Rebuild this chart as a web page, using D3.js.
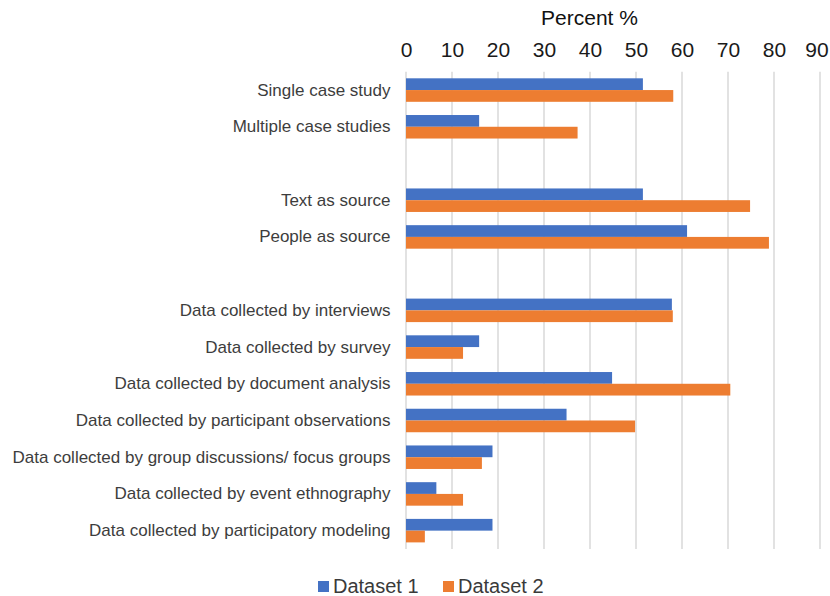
<!DOCTYPE html>
<html>
<head>
<meta charset="utf-8">
<script src="https://cdn.jsdelivr.net/npm/d3@7"></script>
<style>
  html, body { margin: 0; padding: 0; background: #fff; }
  svg { display: block; font-family: "Liberation Sans", Arial, sans-serif; }
</style>
</head>
<body>
<svg id="chart" width="830" height="596"></svg>
<script>
// Categories, top to bottom; empty strings are spacer rows between groups.
const categories = [
  "Single case study",
  "Multiple case studies",
  "",
  "Text as source",
  "People as source",
  "",
  "Data collected by interviews",
  "Data collected by survey",
  "Data collected by document analysis",
  "Data collected by participant observations",
  "Data collected by group discussions/ focus groups",
  "Data collected by event ethnography",
  "Data collected by participatory modeling"
];
const seriesNames = ["Dataset 1", "Dataset 2"];
const dataset1 = [51.5, 15.9, null, 51.5, 61.1, null, 57.8, 15.9, 44.8, 34.9, 18.8, 6.6, 18.8];
const dataset2 = [58.1, 37.3, null, 74.8, 78.9, null, 58.0, 12.4, 70.5, 49.8, 16.5, 12.4, 4.1];
const xTicks = [0, 10, 20, 30, 40, 50, 60, 70, 80, 90];
const axisTitle = "Percent %";

const colors = ["#4472C4", "#ED7D31"];
const svg = d3.select("#chart");

const x = d3.scaleLinear().domain([0, 90]).range([406, 820]);
const y = d3.scaleBand()
  .domain(d3.range(categories.length))
  .range([71.7, 549])
  .paddingInner(0.36)
  .paddingOuter(0.18);
const ySub = d3.scaleBand().domain([0, 1]).range([0, y.bandwidth()]);

// Vertical gridlines
svg.append("g")
  .selectAll("line")
  .data(xTicks)
  .join("line")
  .attr("x1", d => x(d)).attr("x2", d => x(d))
  .attr("y1", y.range()[0]).attr("y2", y.range()[1])
  .attr("stroke", "#d9d9d9")
  .attr("stroke-width", 1.5);

// Bars
const series = [dataset1, dataset2];
series.forEach((vals, s) => {
  svg.append("g")
    .selectAll("rect")
    .data(vals.map((v, i) => ({ v, i })).filter(d => d.v != null))
    .join("rect")
    .attr("x", x(0))
    .attr("y", d => y(d.i) + ySub(s))
    .attr("width", d => x(d.v) - x(0))
    .attr("height", ySub.bandwidth())
    .attr("fill", colors[s]);
});

// Top value axis
const xAxis = svg.append("g")
  .attr("transform", "translate(0,56.5)")
  .call(d3.axisTop(x).tickValues(xTicks).tickSize(0).tickPadding(0));
xAxis.select(".domain").remove();
xAxis.selectAll("text")
  .attr("font-size", 21)
  .attr("font-family", "Liberation Sans, Arial, sans-serif")
  .attr("fill", "#1a1a1a");
// keep the last tick label inside the right edge
xAxis.selectAll(".tick").filter(d => d === xTicks[xTicks.length - 1])
  .select("text").attr("dx", -3.5);

// Axis title
svg.append("text")
  .attr("x", 589.5)
  .attr("y", 25)
  .attr("text-anchor", "middle")
  .attr("font-size", 21)
  .attr("fill", "#111")
  .text(axisTitle);

// Category axis
const yAxis = svg.append("g")
  .attr("transform", `translate(${x(0)},0)`)
  .call(d3.axisLeft(y).tickFormat(i => categories[i]).tickSize(0).tickPadding(15.5));
yAxis.select(".domain").remove();
yAxis.selectAll("text")
  .attr("font-size", 17)
  .attr("font-family", "Liberation Sans, Arial, sans-serif")
  .attr("fill", "#3d3d3d");

// Legend
const legendItems = [
  { name: seriesNames[0], color: colors[0], x: 318 },
  { name: seriesNames[1], color: colors[1], x: 443 }
];
const legend = svg.append("g");
legendItems.forEach(it => {
  legend.append("rect")
    .attr("x", it.x).attr("y", 581)
    .attr("width", 11).attr("height", 11)
    .attr("fill", it.color);
  legend.append("text")
    .attr("x", it.x + 15).attr("y", 592.5)
    .attr("font-size", 20)
    .attr("fill", "#3a3a3a")
    .text(it.name);
});
</script>
</body>
</html>
